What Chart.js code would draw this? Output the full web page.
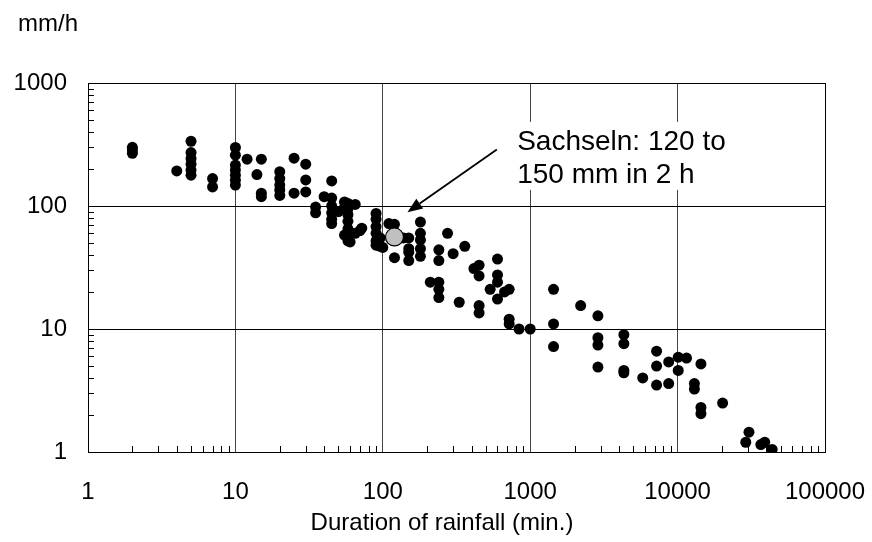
<!DOCTYPE html>
<html>
<head>
<meta charset="utf-8">
<script src="https://cdn.jsdelivr.net/npm/chart.js@4.4.1/dist/chart.umd.min.js"></script>
<style>
html, body { margin: 0; padding: 0; background: #fff; }
#wrap { width: 872px; height: 542px; }
</style>
</head>
<body>
<div id="wrap"><canvas id="rain-chart"></canvas></div>
<script>
// durations (min.) and the intensities (mm/h) observed at each duration
const durations = [2, 4, 5, 7, 10, 12, 14, 15, 20, 25, 30, 35, 40, 45, 50, 55, 58, 60, 65, 70, 72,
    90, 96, 100, 110, 120, 138, 150, 180, 210, 240, 275, 300, 330, 360, 415, 450, 535, 600, 670,
    720, 840, 1000, 1440, 2200, 2880, 4320, 5800, 7200, 8700, 10100, 11500, 13000, 14400, 20200,
    29000, 30500, 36700, 39000, 43800];
const intensities = [
    [300, 285, 268], [193], [336, 272, 243, 219, 196, 178], [167, 143],
    [299, 259, 215, 196, 178, 162, 148], [240], [180], [240, 127, 119],
    [190, 167, 148, 135, 122], [245, 127], [219, 163, 130], [98, 88], [119],
    [160, 116, 100, 88, 78, 72], [90], [108, 98, 58], [105, 95, 85, 75, 65, 58, 52], [51],
    [103, 60], [63], [66],
    [87, 78, 68, 60, 52, 48], [55, 47], [46], [72], [71, 38], [55], [55, 45, 42, 36],
    [74, 60, 53, 45, 39], [24], [44, 36, 24, 21, 18], [60], [41], [16.5], [47], [31],
    [33, 27, 15.5, 13.5], [21], [37, 27.5, 24, 17.5], [20],
    [21, 12, 11], [10], [10], [21, 11, 7.2], [15.5], [12.8, 8.5, 7.4, 4.9], [9, 7.6, 4.6, 4.4],
    [4.0], [6.6, 5.0, 3.5], [5.4, 3.6], [5.9, 4.6], [5.8], [3.6, 3.25], [5.2, 2.3, 2.05], [2.5],
    [1.2], [1.45], [1.15], [1.2], [1.05]
];

// the Sachseln event
const sachselnDuration = [120];
const sachselnIntensity = [56];

const xTicks = [1, 10, 100, 1000, 10000, 100000];
const yTicks = [1, 10, 100, 1000];

const noteLines = ["Sachseln: 120 to", "150 mm in 2 h"];
const xTitle = "Duration of rainfall (min.)";
const yUnit = "mm/h";

const FONT = "'Liberation Sans', Arial, sans-serif";

const points = [];
durations.forEach((d, i) => {
    intensities[i].forEach(v => points.push({ x: d, y: v }));
});
const sachseln = sachselnDuration.map((d, i) => ({ x: d, y: sachselnIntensity[i] }));

// minor ticks, frame, axis texts and the annotation
const decor = {
    id: 'decor',
    beforeDatasetsDraw(chart) {
        const ctx = chart.ctx;
        const a = chart.chartArea;
        const xs = chart.scales.x, ys = chart.scales.y;
        ctx.save();
        ctx.strokeStyle = '#000';
        ctx.lineWidth = 1;
        ctx.beginPath();
        for (let k = 0; k < xTicks.length - 1; k++) {
            for (let d = 2; d <= 9; d++) {
                const px = Math.round(xs.getPixelForValue(d * xTicks[k])) + 0.5;
                ctx.moveTo(px, a.bottom);
                ctx.lineTo(px, a.bottom - 6);
            }
        }
        for (let k = 0; k < yTicks.length - 1; k++) {
            for (let d = 2; d <= 9; d++) {
                const py = Math.round(ys.getPixelForValue(d * yTicks[k])) + 0.5;
                ctx.moveTo(a.left, py);
                ctx.lineTo(a.left + 6, py);
            }
        }
        ctx.stroke();
        ctx.strokeRect(Math.round(a.left) + 0.5, Math.round(a.top) + 0.5,
            Math.round(a.right - a.left), Math.round(a.bottom - a.top));
        ctx.restore();
    },
    afterDatasetsDraw(chart) {
        const ctx = chart.ctx;
        const xs = chart.scales.x, ys = chart.scales.y;
        ctx.save();
        ctx.fillStyle = '#000';
        ctx.font = '24px ' + FONT;
        ctx.textBaseline = 'middle';
        ctx.fillText(yUnit, 18, 24);
        ctx.textAlign = 'center';
        ctx.fillText(xTitle, 442, 523);
        ctx.textAlign = 'left';

        // annotation box and text
        const tx = xs.getPixelForValue(816);
        const ty = ys.getPixelForValue(332);
        ctx.fillStyle = '#fff';
        ctx.fillRect(tx - 7, ty - 20, 226, 68);
        ctx.fillStyle = '#000';
        ctx.font = '28px ' + FONT;
        noteLines.forEach((t, i) => ctx.fillText(t, tx, ty + i * 33.5));

        // arrow to the Sachseln point
        const x0 = xs.getPixelForValue(594), y0 = ys.getPixelForValue(288);
        const x1 = xs.getPixelForValue(147), y1 = ys.getPixelForValue(89);
        const ang = Math.atan2(y1 - y0, x1 - x0);
        const hl = 15, hw = 6;
        ctx.strokeStyle = '#000';
        ctx.lineWidth = 1.8;
        ctx.beginPath();
        ctx.moveTo(x0, y0);
        ctx.lineTo(x1 - hl * Math.cos(ang), y1 - hl * Math.sin(ang));
        ctx.stroke();
        ctx.beginPath();
        ctx.moveTo(x1, y1);
        ctx.lineTo(x1 - hl * Math.cos(ang) + hw * Math.sin(ang), y1 - hl * Math.sin(ang) - hw * Math.cos(ang));
        ctx.lineTo(x1 - hl * Math.cos(ang) - hw * Math.sin(ang), y1 - hl * Math.sin(ang) + hw * Math.cos(ang));
        ctx.closePath();
        ctx.fill();
        ctx.restore();
    }
};

new Chart(document.getElementById("rain-chart"), {
    type: 'scatter',
    data: {
        datasets: [{
            label: "Sachseln",
            data: sachseln,
            backgroundColor: "#c0c0c0",
            borderColor: "#000",
            borderWidth: 1.2,
            pointRadius: 9
        }, {
            label: "Rainfall events",
            data: points,
            backgroundColor: "#000",
            borderWidth: 0,
            pointRadius: 5.5
        }]
    },
    options: {
        responsive: true,
        maintainAspectRatio: false,
        animation: false,
        layout: {
            padding: { top: 83, right: 47, bottom: 0, left: 0 }
        },
        plugins: {
            legend: { display: false },
            tooltip: { enabled: false }
        },
        scales: {
            x: {
                type: 'logarithmic',
                min: 1,
                max: 100000,
                afterBuildTicks: axis => { axis.ticks = xTicks.map(v => ({ value: v })); },
                afterFit: axis => {
                    axis.height = 90;
                    axis.paddingLeft = 0;
                    axis.paddingRight = 0;
                },
                grid: { color: '#444', drawTicks: false },
                border: { color: '#000' },
                ticks: {
                    padding: 26,
                    maxRotation: 0,
                    autoSkip: false,
                    color: '#000',
                    font: { family: FONT, size: 24 },
                    callback: v => String(v)
                }
            },
            y: {
                type: 'logarithmic',
                min: 1,
                max: 1000,
                afterBuildTicks: axis => { axis.ticks = yTicks.map(v => ({ value: v })); },
                afterFit: axis => {
                    axis.width = 88;
                    axis.paddingTop = 0;
                    axis.paddingBottom = 0;
                },
                grid: { color: '#000', drawTicks: false },
                border: { color: '#000' },
                ticks: {
                    padding: 21,
                    autoSkip: false,
                    color: '#000',
                    font: { family: FONT, size: 24 },
                    callback: v => String(v)
                }
            }
        }
    },
    plugins: [decor]
});
</script>
</body>
</html>
